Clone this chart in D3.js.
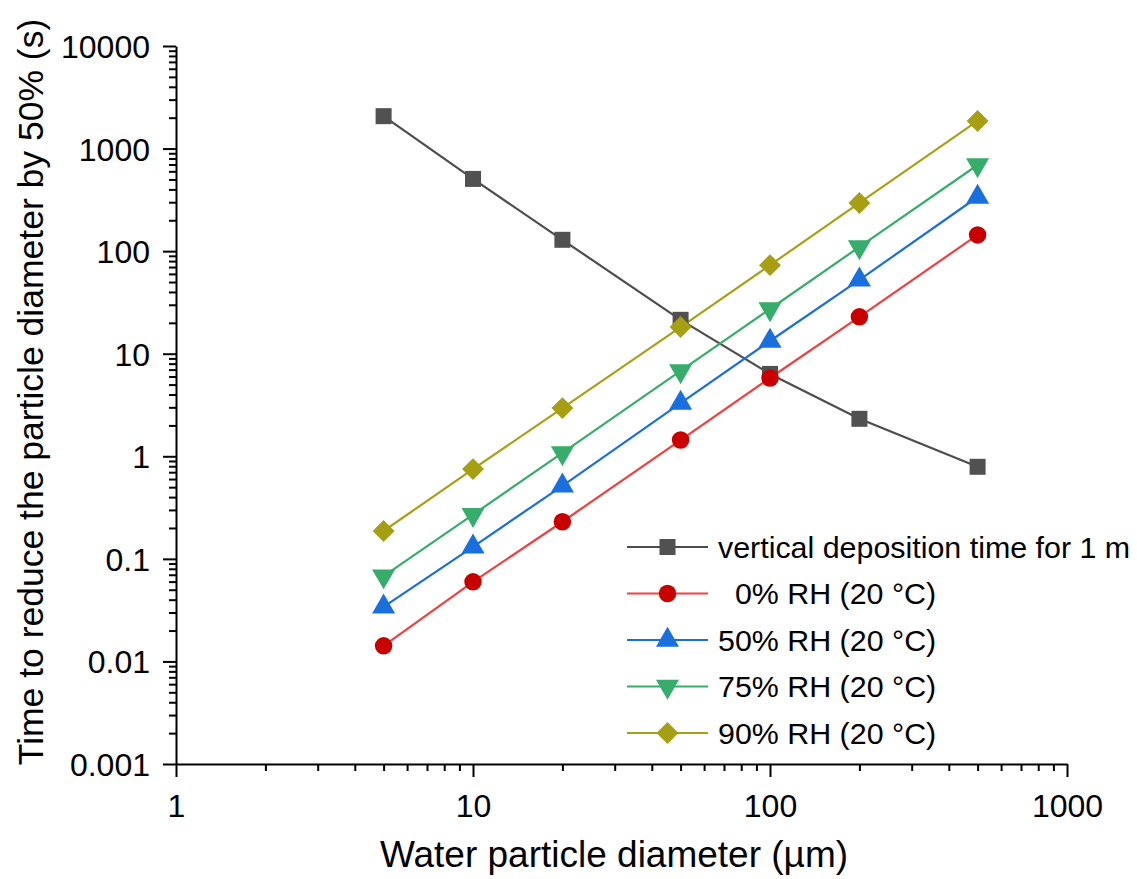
<!DOCTYPE html>
<html>
<head>
<meta charset="utf-8">
<script src="https://cdn.jsdelivr.net/npm/d3@7"></script>
<style>
  body { margin: 0; background: #fff; }
  text { font-family: "Liberation Sans", Arial, sans-serif; fill: #000; }
  .axis path, .axis line { stroke: #000; stroke-width: 2; }
</style>
</head>
<body>
<div id="chart"></div>
<script>
// data
const diameters = [5, 10, 20, 50, 100, 200, 500];
const depositionTime = [2070, 506, 129, 21.4, 6.35, 2.32, 0.79];
const rh0 = [0.0142, 0.0597, 0.23, 1.44, 5.8, 22.9, 144];
const rh50 = [0.034, 0.131, 0.515, 3.3, 13.3, 52.5, 337];
const rh75 = [0.068, 0.27, 1.08, 6.8, 27.3, 110, 692];
const rh90 = [0.187, 0.75, 2.95, 18.2, 73, 295, 1860];

const xTicks = [1, 10, 100, 1000];
const yTicks = [0.001, 0.01, 0.1, 1, 10, 100, 1000, 10000];

const series = [
  {name: 'vertical deposition time for 1 m', values: depositionTime, line: '#4d4d4d', fill: '#515151', symbol: 'square'},
  {name: '\u00a0\u00a00% RH (20 \u00b0C)', values: rh0, line: '#f14040', fill: '#c80000', symbol: 'circle'},
  {name: '50% RH (20 \u00b0C)', values: rh50, line: '#1a6fdf', fill: '#1a6fdf', symbol: 'up'},
  {name: '75% RH (20 \u00b0C)', values: rh75, line: '#37ad6b', fill: '#37ad6b', symbol: 'down'},
  {name: '90% RH (20 \u00b0C)', values: rh90, line: '#a8a015', fill: '#a69f14', symbol: 'diamond'}
];

const W = 1137, H = 879;
const margin = {top: 46, right: 70, bottom: 115, left: 176};
const width = W - margin.left - margin.right;
const height = H - margin.top - margin.bottom;

const svg = d3.select('#chart').append('svg')
    .attr('width', W)
    .attr('height', H);

const g = svg.append('g')
    .attr('transform', 'translate(' + margin.left + ',' + margin.top + ')');

const xScale = d3.scaleLog().domain([1, 1000]).range([0, width]);
const yScale = d3.scaleLog().domain([0.001, 10000]).range([height, 0]);

function minorTicks(domain){
  const out = [];
  for (let p = Math.log10(domain[0]); p < Math.log10(domain[1]); p++) {
    for (let k = 2; k <= 9; k++) out.push(k * Math.pow(10, p));
  }
  return out;
}

const tickLabel = d => d >= 1 ? d3.format('d')(d) : String(d);

// minor ticks
g.append('g').attr('class', 'axis')
    .attr('transform', 'translate(0,' + height + ')')
    .call(d3.axisBottom(xScale).tickValues(minorTicks(xScale.domain())).tickSize(7).tickFormat(''))
    .call(a => a.select('.domain').remove());
g.append('g').attr('class', 'axis')
    .call(d3.axisLeft(yScale).tickValues(minorTicks(yScale.domain())).tickSize(7).tickFormat(''))
    .call(a => a.select('.domain').remove());

// major ticks + labels
const xAxisG = g.append('g').attr('class', 'axis')
    .attr('transform', 'translate(0,' + height + ')')
    .call(d3.axisBottom(xScale).tickValues(xTicks).tickSize(13).tickSizeOuter(0).tickFormat(tickLabel));
xAxisG.selectAll('text').attr('font-size', 32).attr('y', 53).attr('dy', 0);

const yAxisG = g.append('g').attr('class', 'axis')
    .call(d3.axisLeft(yScale).tickValues(yTicks).tickSize(13).tickSizeOuter(0).tickFormat(tickLabel));
yAxisG.selectAll('text').attr('font-size', 32).attr('x', -26).attr('dy', '0.36em');

// axis titles
svg.append('text')
    .attr('x', 614)
    .attr('y', 867)
    .attr('text-anchor', 'middle')
    .attr('font-size', 37)
    .text('Water particle diameter (\u00b5m)');

svg.append('text')
    .attr('transform', 'translate(43,392) rotate(-90)')
    .attr('text-anchor', 'middle')
    .attr('font-size', 35.5)
    .text('Time to reduce the particle diameter by 50% (s)');

const symbolTypes = {
  square: d3.symbolSquare,
  circle: d3.symbolCircle,
  up: d3.symbolTriangle,
  down: d3.symbolTriangle,
  diamond: d3.symbolSquare
};
const symbolSize = {square: 256, circle: 240, up: 230, down: 230, diamond: 240};

function drawMarker(sel, s){
  const path = d3.symbol().type(symbolTypes[s.symbol]).size(symbolSize[s.symbol])();
  let rot = '';
  if (s.symbol === 'down') rot = ' rotate(180)';
  if (s.symbol === 'diamond') rot = ' rotate(45)';
  sel.attr('d', path)
    .attr('fill', s.fill)
    .attr('transform', function(){ return d3.select(this).attr('data-t') + rot; });
}

const line = d3.line()
    .x((d, i) => xScale(diameters[i]))
    .y(d => yScale(d));

series.forEach(s => {
  g.append('path')
    .datum(s.values)
    .attr('fill', 'none')
    .attr('stroke', s.line)
    .attr('stroke-width', 2.2)
    .attr('d', line);
});

series.forEach(s => {
  g.selectAll(null)
    .data(s.values)
    .enter().append('path')
    .attr('data-t', (d, i) => 'translate(' + xScale(diameters[i]) + ',' + yScale(d) + ')')
    .each(function(){ drawMarker(d3.select(this), s); });
});

// legend
const legend = svg.append('g').attr('transform', 'translate(627,547)');
series.forEach((s, i) => {
  const row = legend.append('g').attr('transform', 'translate(0,' + (i * 46.5) + ')');
  row.append('line').attr('x1', 0).attr('x2', 81).attr('y1', 0).attr('y2', 0)
    .attr('stroke', s.line).attr('stroke-width', 2.2);
  row.append('path').attr('data-t', 'translate(40.5,0)')
    .each(function(){ drawMarker(d3.select(this), s); });
  row.append('text').attr('x', 91).attr('y', 0).attr('dy', '0.36em')
    .attr('font-size', 30.4)
    .text(s.name);
});
</script>
</body>
</html>
